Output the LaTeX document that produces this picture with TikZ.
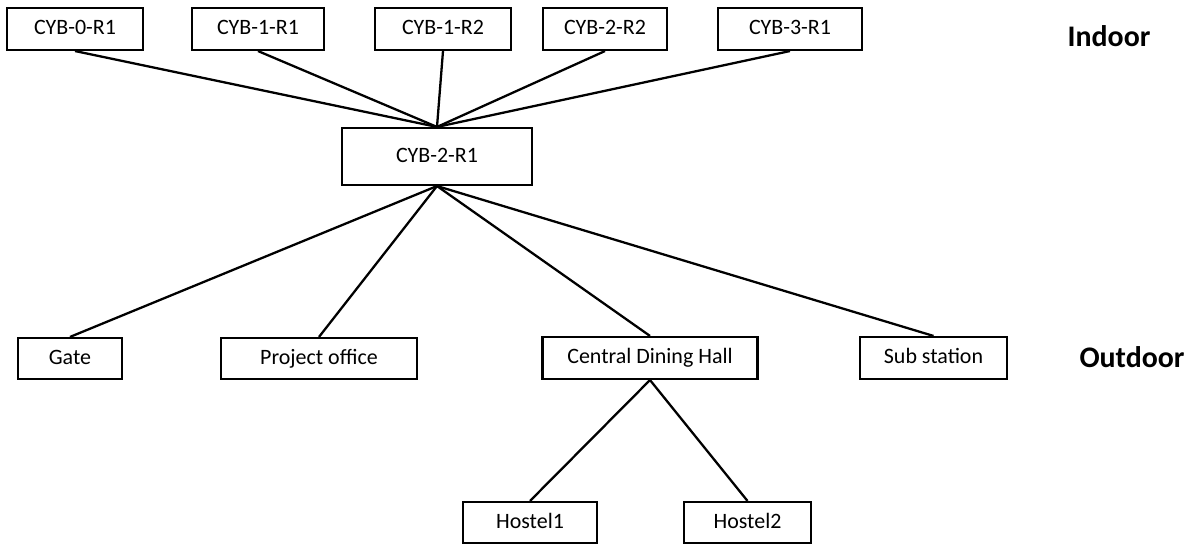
\documentclass[tikz,border=0pt]{standalone}
\usepackage{fontspec}
\setmainfont{Carlito}
\usepackage{tikz}
\usetikzlibrary{positioning}
\tikzset{
    unit/.style={draw, line width=1.2pt, inner sep=0pt, minimum height=0.84cm, text height=1.6ex, text depth=0.2ex, font=\fontsize{12.5}{14}\selectfont},
    link/.style={line width=1.3pt},
    zone/.style={font=\fontsize{17}{20}\selectfont\bfseries}
}

\begin{document}
\begin{tikzpicture}[x=0.02cm, y=-0.02cm]
    \useasboundingbox (0,0) rectangle (1194,546);
    % Indoor routers
    \node[unit, minimum width=2.72cm] (cyb0) at (75,29) {CYB-0-R1};
    \node[unit, minimum width=2.64cm] (cyb1a) at (258,29) {CYB-1-R1};
    \node[unit, minimum width=2.72cm] (cyb1b) at (443,29) {CYB-1-R2};
    \node[unit, minimum width=2.48cm] (cyb2b) at (605,29) {CYB-2-R2};
    \node[unit, minimum width=2.88cm] (cyb3) at (790,29) {CYB-3-R1};
    \node[zone] (indoor) at (1109,36) {Indoor};
    % Central router
    \node[unit, minimum width=3.8cm, minimum height=1.14cm] (hub) at (437,156.5) {CYB-2-R1};
    % Outdoor sites
    \node[unit, minimum width=2.08cm, minimum height=0.82cm] (gate) at (70,358.5) {Gate};
    \node[unit, minimum width=3.92cm, minimum height=0.82cm] (office) at (319,358.5) {Project office};
    \node[unit, minimum width=4.3cm, minimum height=0.84cm] (dining) at (650,358) {Central Dining Hall};
    \node[unit, minimum width=2.94cm, minimum height=0.84cm] (substn) at (933.5,358) {Sub station};
    \node[zone] (outdoor) at (1132,357) {Outdoor};
    % Hostels
    \node[unit, minimum width=2.68cm, minimum height=0.82cm] (hostA) at (530,522.5) {Hostel1};
    \node[unit, minimum width=2.54cm, minimum height=0.82cm] (hostB) at (747.5,522.5) {Hostel2};
    % Links
    \foreach \r in {cyb0, cyb1a, cyb1b, cyb2b, cyb3}
        \draw[link] (\r.south) -- (hub.north);
    \foreach \s in {gate, office, dining, substn}
        \draw[link] (hub.south) -- (\s.north);
    \draw[link] (dining.south) -- (hostA.north);
    \draw[link] (dining.south) -- (hostB.north);
\end{tikzpicture}
\end{document}
